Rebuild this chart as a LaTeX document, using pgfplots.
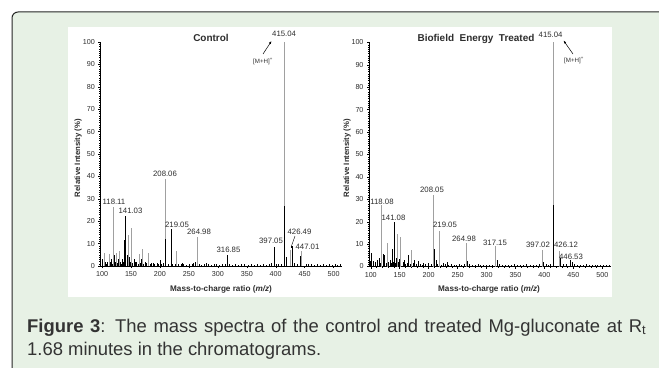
\documentclass[border=0pt]{standalone}
\usepackage{pgfplots}
\pgfplotsset{compat=1.18}
\usetikzlibrary{arrows.meta}
\usepackage{fontspec}
\setmainfont{Liberation Sans}
\definecolor{framebg}{RGB}{231,241,229}
\definecolor{peakgray}{RGB}{160,160,160}
\definecolor{txt}{RGB}{45,45,45}

\pgfplotsset{spec/.style={
  width=242bp, height=224bp, scale only axis,
  xmin=97, xmax=515, ymin=0, ymax=100,
  axis x line*=bottom, axis y line*=left,
  xtick={100,150,...,500}, ytick={0,10,...,100},
  minor x tick num=4, minor y tick num=9,
  tick align=outside, major tick length=2bp, minor tick length=1.2bp,
  every tick/.style={black, line width=0.4bp},
  axis line style={black, line width=0.5bp},
  ticklabel style={font=\fontsize{7.2}{8}\selectfont, text=txt},
  /pgf/number format/assume math mode=true,
  clip=false,
}}

\begin{document}
\begin{tikzpicture}[x=1bp,y=1bp]
\useasboundingbox (0,0) rectangle (659,367);
\begin{scope}
\clip (0,0) rectangle (659,367);
\draw[line width=1bp, draw=black!85, fill=framebg, rounded corners=6bp] (12,355) rectangle (720,-40);
\end{scope}
\fill[white] (68,340) rectangle (612,70);

% ---------------- Control ----------------
\begin{axis}[spec, at={(100.3bp,101bp)}, anchor=south west]
\addplot[ycomb, black, line width=0.5bp, mark=none] coordinates {
(100,2) (103,1.5) (107,1) (109,2) (112,1.5) (115,2) (118,1) (123,2) (127,1.5) (131,2) (134,1) (137,2) (140,1.5) (145,2.5) (149,2) (153,1.5) (157,2) (162,1) (166,1.5) (172,1) (177,1.5) (183,1) (188,1.2) (191,0.8) (197,1) (203,0.8) (206,1.2) (214,1) (222,0.8) (226,1) (232,0.7) (236,1) (241,0.8) (245,0.6) (250,1) (255,0.7) (258,1.5) (268,1) (272,0.6) (277,0.8) (283,1) (288,0.6) (293,0.8) (297,1) (303,0.6) (308,0.8) (312,0.7) (320,1) (325,0.6) (330,0.8) (335,0.6) (340,0.7) (346,1) (352,0.6) (358,0.8) (363,0.6) (368,0.9) (373,0.6) (379,0.8) (384,0.6) (389,1) (393,1.5) (401,1) (405,0.7) (410,1) (432,1.5) (437,1) (452,1) (457,0.7) (462,0.8) (467,0.6) (472,0.9) (477,0.6) (482,0.8) (487,0.6) (492,0.7) (497,0.6) (502,0.8) (507,0.6) (512,0.7)};
\addplot[ycomb, peakgray, line width=0.9bp, mark=none] coordinates {
(104,6) (113,5.5) (119,26.5) (125,6) (130,6.5) (146,14) (151,17) (165,5.5) (170,7.5) (180,6) (209,39) (229,6.5) (265,13) (415,100) (425,7) (445,6.5)};
\addplot[ycomb, black, line width=0.7bp, mark=none] coordinates {
(101,3) (106,2) (110,2) (116,3) (121,5) (128,3) (135,3) (138,11.5) (141,22.5) (143,5) (148,4) (155,3) (160,2) (168,3) (175,2) (186,1.5) (195,1.5) (200,2.5) (210,12) (219,16.5) (238,1.5) (262,2) (280,1.5) (317,5) (397,8.5) (415,27) (418,4) (428,8) (442,4.5)};
\end{axis}

% ---------------- Treated ----------------
\begin{axis}[spec, at={(369bp,100.5bp)}, anchor=south west]
\addplot[ycomb, black, line width=0.5bp, mark=none] coordinates {
(100,2.5) (104,1.5) (108,2) (111,1) (114,2) (117,1.5) (122,2) (126,1.5) (130,2) (135,1.5) (139,2) (143,1.5) (147,2) (151,1.5) (156,2) (160,1) (163,1.5) (168,1) (173,1.5) (178,1) (185,1.2) (189,0.8) (194,1) (199,0.8) (204,1.2) (215,1) (221,0.8) (228,1) (234,0.7) (239,1) (244,0.8) (248,0.6) (253,1) (257,0.7) (261,1) (270,1) (275,0.6) (280,0.8) (285,1) (290,0.6) (295,0.8) (300,0.7) (305,0.6) (310,0.8) (322,1) (327,0.6) (332,0.8) (337,0.6) (342,0.7) (348,1) (353,0.6) (359,0.8) (364,0.6) (369,0.9) (375,0.6) (380,0.8) (386,0.6) (391,1) (403,1) (407,0.7) (410,1) (433,1.2) (438,1) (452,1) (457,0.7) (462,0.8) (467,0.6) (472,0.9) (477,0.6) (482,0.8) (487,0.6) (492,0.7) (497,0.6) (502,0.8) (507,0.6) (512,0.7)};
\addplot[ycomb, peakgray, line width=0.9bp, mark=none] coordinates {
(118,27.5) (129,10.5) (146,14.5) (152,13) (170,7.5) (209,32) (219,16) (266,10.7) (316,9) (397,7.4) (415,100) (426,7)};
\addplot[ycomb, black, line width=0.7bp, mark=none] coordinates {
(101,6) (105,2.5) (112,3) (115,4) (121,5.5) (124,5) (133,3) (138,8) (141,20) (144,4) (150,3.5) (158,3) (165,5) (175,3) (182,2.5) (190,1.5) (200,1.5) (210,8) (213,3) (225,1.5) (232,2) (267,2.5) (318,3) (398,2) (415,27.5) (427,4) (444,3) (448,2)};
\end{axis}

% ---------------- annotations (image y -> 367 - y) ----------------
\begin{scope}[every node/.style={inner sep=0pt, text=txt, font=\fontsize{7.8}{9}\selectfont}]
% Control
\node[font=\bfseries\fontsize{10}{12}\selectfont] at (211,329) {Control};
\node[anchor=west] at (272,333) {415.04};
\draw[-{Latex[length=3bp]}, black, line width=0.5bp] (263,313) -- (271.5,326);
\node[font=\fontsize{6.2}{7}\selectfont] at (263,305.5) {[M+H]\textsuperscript{+}};
\node at (165,193) {208.06};
\node at (114,165.5) {118.11};
\node at (130.5,156) {141.03};
\node at (177,142.5) {219.05};
\node at (199,135) {264.98};
\node at (228.5,117) {316.85};
\node at (271,126.5) {397.05};
\node at (299.5,135.5) {426.49};
\draw[black, line width=0.4bp] (295,131) -- (291.5,121);
\fill[black] (291,119) rectangle (293,121);
\node at (307.5,120) {447.01};
% Treated
\node[font=\bfseries\fontsize{10}{12}\selectfont] at (476,328.5) {Biofield\ \ Energy\ \ Treated};
\node[anchor=west] at (538.5,332) {415.04};
\draw[-{Latex[length=3bp]}, black, line width=0.5bp] (573,313) -- (563.5,326.5);
\node[font=\fontsize{6.2}{7}\selectfont] at (574,306.5) {[M+H]\textsuperscript{+}};
\node at (432,177) {208.05};
\node at (382,165.5) {118.08};
\node at (393.5,149.5) {141.08};
\node at (445,142) {219.05};
\node at (464,128) {264.98};
\node at (495,124) {317.15};
\node at (538,122) {397.02};
\node at (566,122.5) {426.12};
\node at (571,110) {446.53};
% axis labels
\node[font=\bfseries\fontsize{7.8}{9}\selectfont, rotate=90] at (78,209) {Relative Intensity (\%)};
\node[font=\bfseries\fontsize{7.8}{9}\selectfont, rotate=90] at (347,209) {Relative Intensity (\%)};
\node[font=\bfseries\fontsize{8.2}{9}\selectfont] at (221,77.5) {Mass-to-charge ratio (\textit{m/z})};
\node[font=\bfseries\fontsize{8.2}{9}\selectfont] at (489,77.5) {Mass-to-charge ratio (\textit{m/z})};
\end{scope}
% caption
\node[anchor=base west, inner sep=0pt, text=black!80, font=\fontsize{18.5}{22}\selectfont] at (27,35) {\makebox[619bp][s]{\textbf{Figure 3}: The mass spectra of the control and treated Mg-gluconate at R\textsubscript{t}}};
\node[anchor=base west, inner sep=0pt, text=black!80, font=\fontsize{18.5}{22}\selectfont] at (27,12) {1.68 minutes in the chromatograms.};
\end{tikzpicture}
\end{document}
